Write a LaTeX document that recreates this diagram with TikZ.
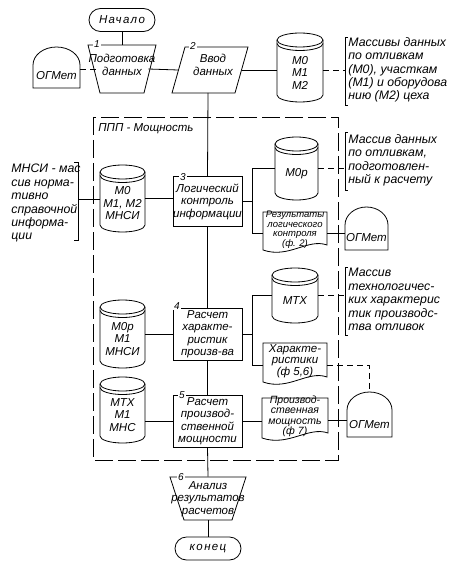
\documentclass[tikz,border=0pt]{standalone}
\usepackage{fontspec}
\setmainfont{Liberation Sans}
\newcommand{\drum}[6]{%
 \pgfmathsetmacro\dcx{(#2+#4)/2}%
 \pgfmathsetmacro\drx{(#4-#2)/2}%
 \pgfmathsetmacro\dcy{(#3+#5)/2}%
 \pgfmathsetmacro\dw{#4-#2}%
 \pgfmathsetmacro\dh{#5-#3}%
 \node[minimum width=\dw pt, minimum height=\dh pt] (#1) at (\dcx,\dcy) {};
 \node (#1-t) at (\dcx,\dcy+5) {#6};
 \draw (#2,#3+7) -- (#2,#5-7) arc[start angle=180,end angle=0,x radius=\drx,y radius=7] -- (#4,#3+7);
 \draw (\dcx,#3+7) ellipse[x radius=\drx,y radius=7];
 \draw (#2,#3+10.5) arc[start angle=180,end angle=0,x radius=\drx,y radius=7];
}
\newcommand{\ogmet}[5]{%
 \pgfmathsetmacro\dcx{(#2+#4)/2}%
 \pgfmathsetmacro\drx{(#4-#2)/2}%
 \pgfmathsetmacro\dcy{(#3+#5)/2}%
 \pgfmathsetmacro\dw{#4-#2}%
 \pgfmathsetmacro\dh{#5-#3}%
 \node[minimum width=\dw pt, minimum height=\dh pt] (#1) at (\dcx,\dcy) {};
 \node (#1-t) at (\dcx,#5-12) {ОГМет};
 \draw (#2,#5) -- (#2,#3+18) arc[start angle=180,end angle=360,x radius=\drx,y radius=18] -- (#4,#5) -- cycle;
}
% name, x1, y1, x2, y2, font size, text
\newcommand{\docum}[7]{%
 \pgfmathsetmacro\dcx{(#2+#4)/2}%
 \pgfmathsetmacro\dcy{(#3+#5)/2}%
 \pgfmathsetmacro\dw{#4-#2}%
 \pgfmathsetmacro\dh{#5-#3}%
 \node[minimum width=\dw pt, minimum height=\dh pt] (#1) at (\dcx,\dcy) {};
 \node[font=\itshape\fontsize{#6}{#6}\selectfont] (#1-t) at (\dcx,\dcy-4) {#7};
 \draw (#2,#5-5) -- (#2,#3) -- (#4,#3) -- (#4,#5-10)
   .. controls (#4-0.3*\dw,#5-17) and (#2+0.4*\dw,#5+4) .. cycle;
}
\begin{document}
\begin{tikzpicture}[x=1pt,y=-1pt, line width=0.8pt,
  every node/.style={font=\itshape\fontsize{11.5}{12.5}\selectfont, inner sep=0pt, align=center},
  dlnk/.style={dash pattern=on 6pt off 4pt},
  frame/.style={line width=0.7pt, dash pattern=on 18pt off 5pt},
  procbox/.style={draw, minimum width=69pt, minimum height=50pt},
  term/.style={draw, rounded corners=11.5pt, minimum width=66pt, minimum height=23pt},
  numlab/.style={fill=white, inner sep=0.8pt, font=\itshape\fontsize{10}{10}\selectfont},
  annot/.style={align=left, anchor=north west, font=\itshape\fontsize{12.3}{13.4}\selectfont}
]
\useasboundingbox (0,0) rectangle (449,569);

% top row
\node[term] (start) at (122,20) {\addfontfeature{LetterSpace=12}Начало};
\draw (88,45) -- (156,45) -- (144,93) -- (100,93) -- cycle;
\node[minimum width=52pt, minimum height=48pt] (t1) at (122,69) {};
\node (t1-t) at (122,65) {Подготовка\\данных};
\node[numlab] (n1) at (97,44) {1};

\ogmet{ogm1}{33}{47}{80}{88}

\draw (185,47) -- (248,47) -- (235,93) -- (172,93) -- cycle;
\node[minimum width=63pt, minimum height=46pt] (p2) at (210,70) {};
\node (p2-t) at (213,65) {Ввод\\данных};
\node[numlab] (n2) at (193,46) {2};

\drum{c0}{277}{33}{323}{102}{М0\\М1\\М2}
\coordinate (br1) at (345,70);
\draw (348,37) -- (345,37) -- (345,105) -- (348,105);
\node[annot] (an1) at (348,37) {Массивы данных\\по отливкам\\(М0), участкам\\(М1) и оборудова\\нию (М2) цеха};

\draw[dlnk] (ogm1.east |- t1.west) -- (t1.west);
\draw (t1.east) -- (p2.west);
\draw (p2.east) -- (p2.east -| c0.west);
\draw[dlnk] (c0.east |- br1) -- (br1);
\draw (start.south) -- (start.south |- t1.north);

% frame
\draw[frame] (93,117) rectangle (338,460);
\node[anchor=west] (ppp) at (98,129) {ППП - Мощность};

% left annotation
\draw (74,162) -- (78,162) -- (78,240) -- (74,240);
\coordinate (br0) at (78,199);
\node[annot] (an0) at (11,164) {МНСИ - мас\\сив норма-\\тивно\\справочной\\информа-\\ции};

% row 3
\drum{c1}{100}{165}{145}{232}{М0\\М1, М2\\МНСИ}
\node[procbox] (b3) at (207.5,201.5) {Логический\\контроль\\информации};
\node[numlab] (n3) at (183,177) {3};
\drum{c2}{275}{137}{318}{200}{М0р}
\draw (348,132) -- (345,132) -- (345,190) -- (348,190);
\coordinate (br2) at (345,168.5);
\node[annot] (an2) at (348,134) {Массив данных\\по отливкам,\\подготовлен-\\ный к расчету};
\docum{d1}{263}{212}{327}{255}{9.5}{Результаты\\логического\\контроля\\(ф. 2)}
\ogmet{ogm2}{345}{207}{388}{250}

\draw (br0) -- (br0 -| c1.west);
\draw (c1.east) -- (c1.east -| b3.west);
\path (b3.east) ++(10,0) coordinate (j3);
\draw (b3.east) -- (j3);
\draw (c2.west) -| (j3) |- (d1.west);
\draw[dlnk] (c2.east) -- (br2);
\draw (d1.east) -- (d1.east -| ogm2.west);

% row 4
\drum{c3}{100}{300}{145}{368}{М0р\\М1\\МНСИ}
\node[procbox, minimum height=52pt] (b4) at (207.5,334) {Расчет\\характе-\\ристик\\произв-ва};
\node[numlab] (n4) at (177,306) {4};
\drum{c4}{272}{268}{318}{323}{МТХ}
\draw (348,267) -- (345,267) -- (345,335) -- (348,335);
\coordinate (br3) at (345,295.5);
\node[annot] (an3) at (348,268) {Массив\\технологичес-\\ких характерис\\тик производс-\\тва отливок};
\docum{d2}{263}{343}{327}{387}{11.5}{Характе-\\ристики\\(ф 5,6)}

\draw (c3.east) -- (c3.east -| b4.west);
\path (b4.east) ++(10,0) coordinate (j4);
\draw (b4.east) -- (j4);
\draw (c4.west) -| (j4) |- (d2.west);
\draw[dlnk] (c4.east) -- (br3);

% row 5
\drum{c5}{100}{377}{145}{443}{МТХ\\М1\\МНС}
\node[procbox, minimum height=52pt] (b5) at (207.5,421) {Расчет\\производ-\\ственной\\мощности};
\node[numlab] (n5) at (182,395) {5};
\docum{d3}{262}{398}{328}{443}{10.5}{Производ-\\ственная\\мощность\\(ф 7)}
\ogmet{ogm3}{347}{392}{392}{437}

\draw (b5.west -| c5.east) -- (b5.west);
\draw (b5.east) -- (b5.east -| d3.west);
\draw (d3.east) -- (d3.east -| ogm3.west);
\draw[dlnk] (d2.east) -| (ogm3.north);

% main spine
\draw (208,93) -- (b3.north);
\draw (b3.south) -- (b4.north);
\draw (b4.south) -- (b5.north);

% bottom
\draw (170,477) -- (246,477) -- (232,520) -- (184,520) -- cycle;
\node[minimum width=56pt, minimum height=43pt] (t6) at (208,498.5) {};
\node (t6-t) at (208,499) {Анализ\\результатов\\расчетов};
\node[numlab] (n6) at (181,477) {6};
\node[term] (end) at (208,548.5) {\addfontfeature{LetterSpace=12}конец};

\draw (b5.south) -- (t6.north);
\draw (t6.south) -- (end.north);
\end{tikzpicture}
\end{document}
